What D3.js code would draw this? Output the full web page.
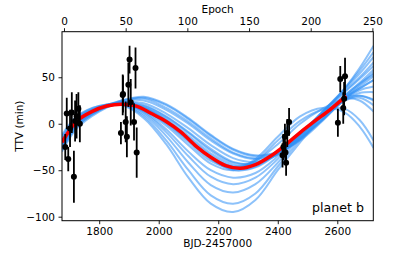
<!DOCTYPE html>
<html>
<head>
<meta charset="utf-8">
<script src="https://cdn.jsdelivr.net/npm/d3@7"></script>
<style>
  body { margin: 0; background: #fff; }
  text { font-family: "DejaVu Sans", sans-serif; }
</style>
</head>
<body>
<svg id="chart" width="415" height="260"></svg>
<script>
// observed transit timing variations
var obsBjd = [1686, 1691, 1696, 1702, 1708, 1715, 1719, 1724, 1730, 1735,
              1873, 1879, 1880, 1889, 1893, 1898, 1902, 1906, 1917, 1922, 1926,
              2416, 2419, 2424, 2426, 2428, 2432, 2438,
              2602, 2610, 2620, 2623, 2626];
var obsTtv = [-25, 11, -38, -5, 12, -57, 3, 8, 16, 0,
              -10, 31, 32, 2, -14, 42, 69, 23, 2, 60, -31,
              -34, -25, -14, -31, -42, -10, 2,
              1, 48, 17, 27, 51];
var obsErr = [14, 17, 13, 20, 22, 28, 22, 24, 18, 20,
              12, 22, 20, 22, 22, 24, 15, 25, 20, 22, 27,
              13, 14, 14, 12, 14, 15, 15,
              15, 14, 17, 18, 20];

// best-fit model
var bestBjd = [1675, 1725, 1775, 1825, 1875, 1925, 1975, 2025, 2075, 2125,
               2175, 2225, 2275, 2325, 2375, 2425, 2475, 2525, 2575, 2630];
var bestTtv = [-20, 3, 13, 19, 21, 19, 11, 2.5, -9, -24,
               -36, -45, -48, -44, -35, -23, -9.5, 3, 15, 30];

// posterior draws, sampled at drawBjd
var drawBjd = [1675, 1725, 1800, 1875, 1950, 2025, 2100, 2175, 2250, 2325, 2400, 2475, 2550, 2625, 2675, 2722];
var draws = [
  [-12, 8, 19, 20, 6, -22, -58, -86, -95, -82, -50, -20, 10, 38, 60, 84],
  [-14, 7, 19, 21, 8, -18, -50, -77, -86, -75, -46, -17, 12, 38, 57, 77],
  [-16, 6, 18, 21, 10, -13, -42, -66, -74, -65, -42, -14, 13, 37, 54, 72],
  [-18, 5, 18, 22, 12, -9, -35, -57, -65, -58, -38, -12, 13, 35, 50, 66],
  [-19, 4, 17, 22, 13, -6, -30, -50, -58, -53, -35, -11, 12, 34, 48, 62],
  [-20, 3, 17, 22, 16, 2, -17, -37, -49, -46, -31, -10, 9, 30, 44, 58],
  [-22, 2, 16, 22, 18, 5, -13, -32, -44, -43, -31, -12, 8, 29, 42, 55],
  [-18, 4, 17, 21, 15, 1, -18, -38, -50, -47, -32, -11, 10, 31, 43, 53],
  [-24, 0, 16, 23, 20, 8, -9, -27, -41, -43, -33, -14, 7, 28, 40, 51],
  [-21, 2, 16, 22, 19, 7, -10, -29, -42, -42, -31, -12, 8, 28, 38, 47],
  [-26, -1, 15, 23, 22, 11, -5, -23, -37, -41, -33, -16, 5, 27, 36, 40],
  [-28, -3, 14, 24, 25, 15, 0, -18, -32, -38, -32, -17, 4, 26, 33, 34],
  [-30, -5, 13, 24, 28, 20, 5, -13, -28, -35, -31, -18, 3, 25, 30, 26],
  [-27, -3, 15, 25, 29, 21, 6, -12, -27, -34, -30, -16, 4, 25, 28, 20],
  [-25, -1, 16, 25, 27, 17, 2, -16, -31, -37, -31, -15, 5, 27, 38, 47],
  [-22, 1, 15, 21, 15, 0, -20, -40, -48, -40, -18, 3, 15, 16, 4, -18],
  [-20, 2, 16, 21, 14, -2, -23, -43, -50, -38, -14, 8, 17, 12, -3, -26],
  [-23, 1, 16, 22, 17, 3, -16, -36, -46, -40, -22, 0, 16, 27, 25, 13],
  [-21, 2, 16, 22, 17, 4, -15, -34, -46, -44, -30, -9, 10, 28, 30, 25]
];

var xTicks = [1800, 2000, 2200, 2400, 2600];
var yTicks = [-100, -50, 0, 50];
var epochTicks = [0, 50, 100, 150, 200, 250];
var T0 = 1681.7, P = 4.145;

var mL = 62, mR = 373.3, mT = 31.7, mB = 220.7;

var svg = d3.select('#chart');

var x = d3.scaleLinear().domain([1675, 2721]).range([mL, mR]);
var y = d3.scaleLinear().domain([-104.3, 99]).range([mB, mT]);
var xTop = d3.scaleLinear()
  .domain([(1675 - T0) / P, (2721 - T0) / P])
  .range([mL, mR]);

svg.append('clipPath').attr('id', 'clip')
  .append('rect')
    .attr('x', mL).attr('y', mT)
    .attr('width', mR - mL).attr('height', mB - mT);

var plot = svg.append('g').attr('clip-path', 'url(#clip)');

var line = d3.line()
  .x(function(d) { return x(d[0]); })
  .y(function(d) { return y(d[1]); })
  .curve(d3.curveCatmullRom.alpha(0.5));

// blue draws
plot.selectAll('path.draw')
  .data(draws)
  .enter().append('path')
    .attr('class', 'draw')
    .attr('d', function(v) { return line(drawBjd.map(function(t, i) { return [t, v[i]]; })); })
    .attr('fill', 'none')
    .attr('stroke', '#2f8ff5')
    .attr('stroke-opacity', 0.55)
    .attr('stroke-width', 2);

// red best fit
plot.append('path')
  .attr('d', line(bestBjd.map(function(t, i) { return [t, bestTtv[i]]; })))
  .attr('fill', 'none')
  .attr('stroke', '#ff0000')
  .attr('stroke-width', 3.5);

// error bars + points
var idx = d3.range(obsBjd.length);
plot.selectAll('line.err')
  .data(idx)
  .enter().append('line')
    .attr('class', 'err')
    .attr('x1', function(i) { return x(obsBjd[i]); })
    .attr('x2', function(i) { return x(obsBjd[i]); })
    .attr('y1', function(i) { return y(obsTtv[i] - obsErr[i]); })
    .attr('y2', function(i) { return y(obsTtv[i] + obsErr[i]); })
    .attr('stroke', '#000')
    .attr('stroke-width', 1.8);

plot.selectAll('circle.obs')
  .data(idx)
  .enter().append('circle')
    .attr('class', 'obs')
    .attr('cx', function(i) { return x(obsBjd[i]); })
    .attr('cy', function(i) { return y(obsTtv[i]); })
    .attr('r', 3)
    .attr('fill', '#000');

// frame
svg.append('rect')
  .attr('x', mL).attr('y', mT)
  .attr('width', mR - mL).attr('height', mB - mT)
  .attr('fill', 'none').attr('stroke', '#000').attr('stroke-width', 1);

// axes
function style(g) {
  g.select('.domain').remove();
  g.selectAll('.tick line').attr('stroke', '#000').attr('stroke-width', 0.9);
  g.selectAll('.tick text')
    .attr('fill', '#000')
    .style('font-family', '"DejaVu Sans", sans-serif')
    .style('font-size', '10.5px');
}

svg.append('g')
  .attr('transform', 'translate(0,' + mB + ')')
  .call(d3.axisBottom(x).tickValues(xTicks).tickSize(3.5).tickPadding(3.5).tickFormat(d3.format('d')))
  .call(style);

svg.append('g')
  .attr('transform', 'translate(' + mL + ',0)')
  .call(d3.axisLeft(y).tickValues(yTicks).tickSize(3.5).tickPadding(3.5)
    .tickFormat(function(d) { return d < 0 ? '\u2212' + Math.abs(d) : d; }))
  .call(style);

svg.append('g')
  .attr('transform', 'translate(0,' + mT + ')')
  .call(d3.axisTop(xTop).tickValues(epochTicks).tickSize(3.5).tickPadding(3.5).tickFormat(d3.format('d')))
  .call(style);

// labels
svg.append('text')
  .attr('x', (mL + mR) / 2).attr('y', 246.5)
  .attr('text-anchor', 'middle')
  .style('font-size', '10.5px')
  .text('BJD-2457000');

svg.append('text')
  .attr('x', (mL + mR) / 2).attr('y', 12.5)
  .attr('text-anchor', 'middle')
  .style('font-size', '10.5px')
  .text('Epoch');

svg.append('text')
  .attr('transform', 'translate(23,' + (mT + mB) / 2 + ') rotate(-90)')
  .attr('text-anchor', 'middle')
  .style('font-size', '10.5px')
  .text('TTV (min)');

svg.append('text')
  .attr('x', 364).attr('y', 212)
  .attr('text-anchor', 'end')
  .style('font-size', '12.6px')
  .text('planet b');
</script>
</body>
</html>
